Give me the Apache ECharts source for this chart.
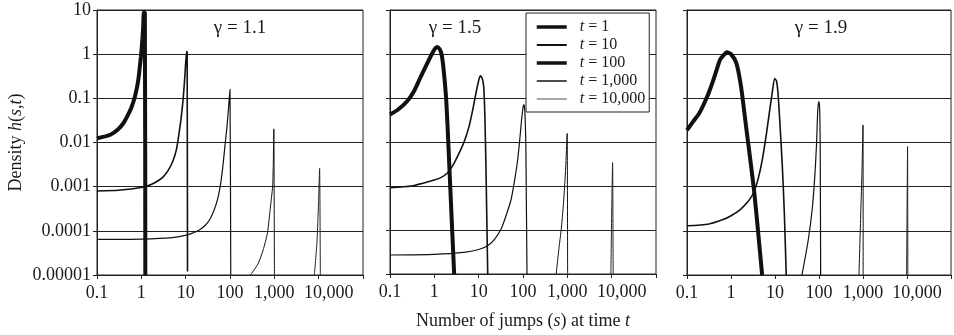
<!DOCTYPE html>
<html>
<head>
<meta charset="utf-8">
<script src="https://cdn.jsdelivr.net/npm/echarts@6/dist/echarts.min.js"></script>
<style>
  html, body { margin: 0; padding: 0; background: #fff; }
</style>
</head>
<body>
<div id="chart" style="width: 954px;height: 335px;"></div>
<script>
// tick labels
var xTickLabels = ['0.1', '1', '10', '100', '1,000', '10,000', '']
var yTickLabels = ['0.00001', '0.0001', '0.001', '0.01', '0.1', '1', '10']
var gammaLabels = ['γ = 1.1', 'γ = 1.5', 'γ = 1.9']
var seriesNames = ['t = 1', 't = 10', 't = 100', 't = 1,000', 't = 10,000']

// gamma = 1.1  [s, h(s,t)]
var g11t1 = [[0.1, 0.0124], [0.2, 0.015], [0.3, 0.02], [0.4, 0.028], [0.5, 0.042], [0.6, 0.063], [0.7, 0.1], [0.8, 0.18], [0.87, 0.3], [0.93, 0.55], [0.98, 0.9], [1.02, 1.4], [1.06, 2.3], [1.1, 4], [1.14, 8.9], [1.2, 8.9], [1.23, 0.00001]]
var g11t10 = [[0.1, 0.0008], [0.3, 0.00083], [1.2, 0.001], [2.0, 0.00123], [3.0, 0.0016], [4.0, 0.0023], [5.1, 0.0037], [6.2, 0.007], [7.2, 0.0178], [8.0, 0.04], [8.8, 0.1], [9.6, 0.32], [10.5, 1.14], [10.8, 1.1], [11, 0.000012]]
var g11t100 = [[0.1, 0.000064], [1, 0.000065], [5, 0.00007], [10.9, 0.000081], [19, 0.0001], [27, 0.00013], [35, 0.00018], [43, 0.00028], [52, 0.0005], [60, 0.001], [68, 0.0025], [77, 0.0085], [85, 0.022], [92, 0.055], [97, 0.11], [100, 0.16], [104, 0.00001]]
var g11t1000 = [[290, 0.00001], [430, 0.000018], [560, 0.000037], [700, 0.00009], [800, 0.00029], [915, 0.001], [945, 0.003], [962, 0.009], [975, 0.0204], [1005, 0.00001]]
var g11t10000 = [[8000, 0.00001], [9200, 0.00006], [9900, 0.0004], [10500, 0.0026], [10900, 0.00001]]

// gamma = 1.5
var g15t1 = [[0.1, 0.042], [0.15, 0.054], [0.24, 0.083], [0.35, 0.145], [0.49, 0.3], [0.65, 0.54], [0.83, 0.89], [1.0, 1.26], [1.15, 1.45], [1.3, 1.32], [1.45, 1.0], [1.6, 0.5], [1.83, 0.11], [2.0, 0.02], [2.18, 0.0028], [2.5, 0.000126], [2.8, 0.00001]]
var g15t10 = [[0.1, 0.00091], [0.3, 0.001], [0.83, 0.0013], [1.4, 0.00155], [2.0, 0.002], [2.6, 0.0029], [3.6, 0.0055], [4.8, 0.0107], [6.1, 0.023], [7.4, 0.056], [8.7, 0.13], [10, 0.25], [10.9, 0.32], [12, 0.28], [13, 0.18], [13.8, 0.04], [14.6, 0.0028], [16, 0.00001]]
var g15t100 = [[0.1, 0.000027], [1, 0.000028], [4.6, 0.000031], [10, 0.000036], [16, 0.000044], [23, 0.000062], [32, 0.000105], [42, 0.00022], [54, 0.0005], [65, 0.0014], [76, 0.004], [85, 0.012], [93, 0.032], [100, 0.06], [105, 0.071], [110, 0.05], [116, 0.008], [119, 0.0005], [123, 0.00001]]
var g15t1000 = [[560, 0.00001], [650, 0.00004], [730, 0.000105], [810, 0.00035], [870, 0.001], [930, 0.0035], [990, 0.0156], [1015, 0.00001]]
var g15t10000 = [[9600, 0.00001], [10100, 0.0005], [10500, 0.0034], [10800, 0.00001]]

// gamma = 1.9
var g19t1 = [[0.1, 0.019], [0.13, 0.0275], [0.19, 0.046], [0.26, 0.087], [0.33, 0.155], [0.44, 0.355], [0.56, 0.74], [0.68, 0.955], [0.81, 1.1], [1.0, 1.0], [1.33, 0.62], [1.7, 0.178], [2.2, 0.023], [2.8, 0.0035], [3.4, 0.0007], [4.2, 0.00008], [5.1, 0.00001]]
var g19t10 = [[0.1, 0.00013], [0.3, 0.000141], [0.66, 0.00018], [1.0, 0.00022], [1.6, 0.0003], [2.3, 0.00043], [3.2, 0.0007], [4.2, 0.0016], [5.3, 0.0048], [6.4, 0.016], [7.6, 0.055], [8.7, 0.14], [9.8, 0.28], [10.8, 0.25], [11.7, 0.13], [13, 0.025], [14.7, 0.0028], [16.3, 0.00025], [18, 0.00001]]
var g19t100 = [[41, 0.00001], [57, 0.000062], [71, 0.00035], [81, 0.002], [88, 0.0095], [93, 0.046], [98, 0.084], [103, 0.065], [105, 0.03], [107, 0.0034], [109, 0.00001]]
var g19t1000 = [[810, 0.00001], [890, 0.00025], [950, 0.0025], [1000, 0.025], [1008, 0.00001]]
var g19t10000 = [[9800, 0.00001], [10100, 0.0008], [10300, 0.0081], [10450, 0.00001]]

var panels = [
  [g11t1, g11t10, g11t100, g11t1000, g11t10000],
  [g15t1, g15t10, g15t100, g15t1000, g15t10000],
  [g19t1, g19t10, g19t100, g19t1000, g19t10000]
]

var lineWidths = [4, 1.6, 1.2, 1, 1]
var lineColors = ['#111', '#111', '#111', '#111', '#222']
var legendWidths = [3.5, 2, 3.5, 1.5, 1.5]
var legendColors = ['#111', '#111', '#111', '#111', '#888']

var font = 'Liberation Serif'
var textColor = '#1a1a1a'
var gridLefts = [97, 390, 687]

var grids = []
var xAxes = []
var yAxes = []
var series = []
gridLefts.forEach(function(left, i) {
  grids.push({
    left: left,
    top: 10,
    width: 266,
    height: 265,
    show: true,
    borderColor: '#222',
    borderWidth: 1
  })
  xAxes.push({
    type: 'log',
    logBase: 10,
    gridIndex: i,
    min: 0.1,
    max: 100000,
    axisLine: { show: true, lineStyle: { color: '#222', width: 1 }},
    axisTick: { show: true, inside: false, length: 4, lineStyle: { color: '#222' }},
    minorTick: { show: false },
    splitLine: { show: false },
    axisLabel: {
      margin: 9,
      color: textColor,
      fontFamily: font,
      fontSize: 18,
      rich: { r: { padding: [0, 0, 0, 20], fontFamily: font, fontSize: 18, color: textColor }},
      formatter: function(v) {
        var k = Math.round(Math.log10(v)) + 1
        // the last label sits a little right of its tick, as in the print
        return k === 5 ? '{r|' + xTickLabels[k] + '}' : xTickLabels[k]
      }
    }
  })
  yAxes.push({
    type: 'log',
    logBase: 10,
    gridIndex: i,
    min: 0.00001,
    max: 10,
    axisLine: { show: true, lineStyle: { color: '#222', width: 1 }},
    axisTick: { show: true, inside: false, length: 4, lineStyle: { color: '#222' }},
    minorTick: { show: false },
    splitLine: { show: true, lineStyle: { color: '#222', width: 1 }},
    axisLabel: {
      show: i === 0,
      margin: 6,
      color: textColor,
      fontFamily: font,
      fontSize: 18,
      formatter: function(v) {
        return yTickLabels[Math.round(Math.log10(v)) + 5]
      }
    }
  })
  panels[i].forEach(function(data, k) {
    series.push({
      type: 'line',
      name: seriesNames[k],
      xAxisIndex: i,
      yAxisIndex: i,
      data: data,
      symbol: 'none',
      showSymbol: false,
      smooth: 0.2,
      clip: true,
      lineStyle: { color: lineColors[k], width: lineWidths[k] },
      itemStyle: { color: lineColors[k] },
      z: 5 - k
    })
  })
})

// axis titles
yAxes[0].name = 'Density {i|h}({i|s},{i|t})'
yAxes[0].nameLocation = 'middle'
yAxes[0].nameGap = 72
yAxes[0].nameRotate = 90
yAxes[0].nameTextStyle = {
  color: textColor, fontFamily: font, fontSize: 18,
  rich: { i: { fontStyle: 'italic', fontFamily: font, fontSize: 18, color: textColor }}
}
xAxes[1].name = 'Number of jumps ({i|s}) at time {i|t}'
xAxes[1].nameLocation = 'middle'
xAxes[1].nameGap = 38
xAxes[1].nameTextStyle = {
  color: textColor, fontFamily: font, fontSize: 18,
  rich: { i: { fontStyle: 'italic', fontFamily: font, fontSize: 18, color: textColor }}
}

var gammaX = [240, 455, 821]
var graphics = gammaLabels.map(function(txt, i) {
  return {
    type: 'text',
    x: gammaX[i],
    y: 28,
    z: 20,
    style: {
      text: txt,
      font: '19px "' + font + '"',
      fill: textColor,
      textAlign: 'center',
      textVerticalAlign: 'middle'
    }
  }
})

var option = {
  animation: false,
  backgroundColor: '#fff',
  grid: grids,
  xAxis: xAxes,
  yAxis: yAxes,
  graphic: graphics,
  legend: {
    orient: 'vertical',
    left: 526,
    top: 13,
    z: 30,
    backgroundColor: '#fff',
    borderColor: '#222',
    borderWidth: 1,
    borderRadius: 0,
    padding: [6, 4, 5, 9],
    itemGap: 2,
    itemWidth: 30,
    itemHeight: 14,
    selectedMode: false,
    data: seriesNames.map(function(n, k) {
      return {
        name: n,
        lineStyle: { width: legendWidths[k], color: legendColors[k] },
        // hide the marker the line legend draws in the middle
        itemStyle: { color: 'rgba(0,0,0,0)', borderWidth: 0, opacity: 0 }
      }
    }),
    textStyle: {
      color: textColor,
      fontFamily: font,
      fontSize: 16,
      lineHeight: 16,
      rich: { i: { fontStyle: 'italic', fontFamily: font, fontSize: 16, lineHeight: 16, color: textColor, padding: [0, 0, 0, 8] }}
    },
    formatter: function(name) {
      return '{i|t}' + name.slice(1)
    }
  },
  series: series
}

var chart = echarts.init(document.getElementById('chart'))
chart.setOption(option)
</script>
</body>
</html>
